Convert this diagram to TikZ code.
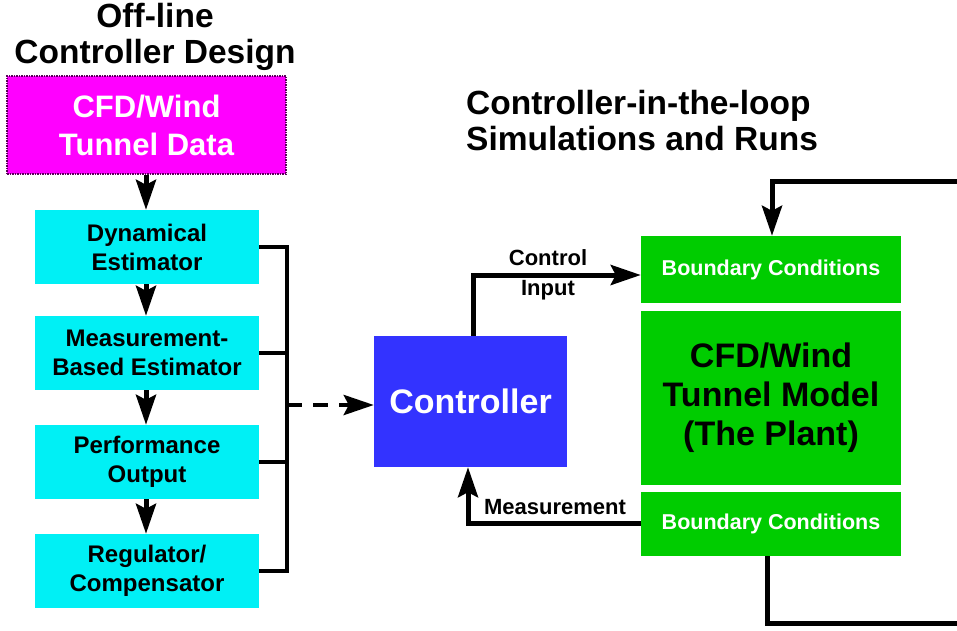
\documentclass[tikz,border=0pt]{standalone}
\usepackage{fontspec}
\setmainfont{Liberation Sans}
\usetikzlibrary{arrows.meta}
\definecolor{magbox}{RGB}{255,0,255}
\definecolor{magedge}{RGB}{90,0,90}
\definecolor{cyanbox}{RGB}{0,240,245}
\definecolor{greenbox}{RGB}{0,204,0}
\definecolor{bluebox}{RGB}{51,51,255}
\newcommand{\fsz}[2]{\bfseries\fontsize{#1}{#2}\selectfont}
\begin{document}
\begin{tikzpicture}[x=1pt,y=-1pt,
  box/.style={rectangle, inner sep=0pt, align=center},
  cyanstep/.style={box, fill=cyanbox, minimum width=224pt, minimum height=74pt, font=\fsz{24}{29}},
  greenstep/.style={box, fill=greenbox, minimum width=260pt},
  wire/.style={line width=5pt, draw=black},
  arr/.style={wire, -{Stealth[length=30pt,width=20pt,inset=5pt]}},
  title/.style={inner sep=0pt, font=\fsz{33.5}{36}}
]
\useasboundingbox (0,0) rectangle (957,630);

% titles
\node[title, align=center] (t1) at (155,37) {Off-line\\Controller Design};
\node[title, align=left, anchor=west] (t2) at (466,121) {Controller-in-the-loop\\Simulations and Runs};

% left column
\node[box, fill=magbox, draw=magedge, densely dotted, line width=1.5pt,
      minimum width=279pt, minimum height=98pt, text=white, font=\fsz{31}{38}]
      (data) at (146.5,125) {CFD/Wind\\Tunnel Data};
\node[cyanstep] (d1) at (147,247) {Dynamical\\Estimator};
\node[cyanstep] (d2) at (147,353) {Measurement-\\Based Estimator};
\node[cyanstep] (d3) at (147,462) {Performance\\Output};
\node[cyanstep] (d4) at (147,571) {Regulator/\\Compensator};

% controller
\node[box, fill=bluebox, minimum width=193pt, minimum height=131pt, text=white, font=\fsz{34}{40}]
      (ctrl) at (470.5,401.5) {Controller};

% plant
\node[greenstep, minimum height=67pt, text=white, font=\fsz{21.5}{26}] (bc1) at (771,269.5) {Boundary Conditions};
\node[greenstep, minimum height=174pt, text=black, font=\fsz{34}{39}] (plant) at (771,398) {CFD/Wind\\Tunnel Model\\(The Plant)};
\node[greenstep, minimum height=64pt, text=white, font=\fsz{21.5}{26}] (bc2) at (771,524) {Boundary Conditions};

% left arrows
\draw[arr] (data.south -| 146,0) -- (d1.north -| 146,0);
\draw[arr] (d1.south -| 146,0) -- (d2.north -| 146,0);
\draw[arr] (d2.south -| 146,0) -- (d3.north -| 146,0);
\draw[arr] (d3.south -| 146,0) -- (d4.north -| 146,0);

% bracket
\coordinate (brk) at (287,405);
\draw[wire, line width=4.5pt] (d1.east) -- (d1.east -| brk) -- (d4.east -| brk) -- (d4.east);
\draw[wire, line width=4.5pt] (d2.east) -- (d2.east -| brk);
\draw[wire, line width=4.5pt] (d3.east) -- (d3.east -| brk);
\draw[arr, line width=4.5pt, dash pattern=on 15pt off 11pt] (brk) -- (ctrl.west |- brk);

% control input
\coordinate (ci) at (473,275);
\draw[arr] (ctrl.north -| ci) -- (ci) -- (ci -| bc1.west);
\node[inner sep=0pt, font=\fsz{22}{26}] (lc) at (548,258) {Control};
\node[inner sep=0pt, font=\fsz{22}{26}] (li) at (548,290) {Input};

% measurement
\coordinate (mi) at (468,523);
\draw[arr] (bc2.west |- mi) -- (mi) -- (mi |- ctrl.south);
\node[inner sep=0pt, font=\fsz{22}{26}] (lm) at (555,507) {Measurement};

% outer loop (cut at the picture edge)
\coordinate (lb) at (767,623);
\coordinate (lt) at (772,181);
\coordinate (eb) at (957,623);
\coordinate (et) at (957,181);
\draw[wire] (bc2.south -| lb) -- (lb) -- (eb);
\draw[arr] (et) -- (lt) -- (lt |- bc1.north);
\end{tikzpicture}
\end{document}
